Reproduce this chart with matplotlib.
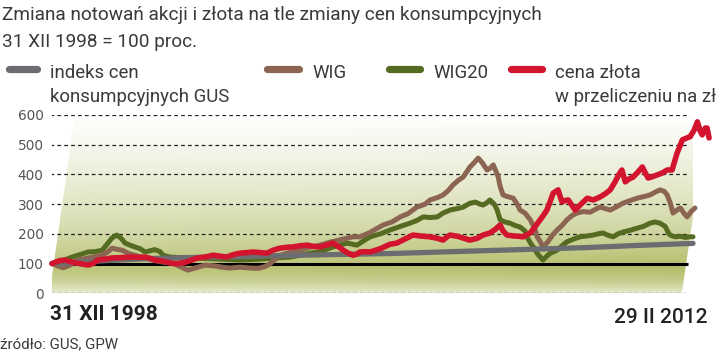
import numpy as np
import matplotlib.pyplot as plt
from matplotlib.lines import Line2D
from matplotlib.patches import Polygon

# czas w latach od 31 XII 1998, wartosci: 31 XII 1998 = 100
cpi_t = [0, 1, 2, 3, 4, 5, 6, 7, 8, 9, 10, 11, 12, 13.16]
cpi_v = [100, 109, 117, 121, 124, 128, 131, 134, 139, 144, 149, 154, 161, 168]

wig_t = [0, 0.12, 0.23, 0.37, 0.53, 0.78, 1.03, 1.15, 1.23, 1.33, 1.44, 1.56, 1.70, 1.91,
         2.11, 2.32, 2.46, 2.63, 2.79, 3.00, 3.14, 3.35, 3.49, 3.65, 3.86, 4.07, 4.23, 4.37,
         4.48, 4.68, 4.89, 5.09, 5.30, 5.50, 5.71, 5.91, 6.18, 6.32, 6.53, 6.80, 6.98, 7.15,
         7.31, 7.49, 7.66, 7.76, 7.91, 8.03, 8.13, 8.23, 8.34, 8.44, 8.52, 8.58, 8.67, 8.75,
         8.83, 8.93, 8.99, 9.06, 9.16, 9.20, 9.26, 9.36, 9.47, 9.55, 9.61, 9.71, 9.82, 9.92,
         9.96, 10.02, 10.08, 10.18, 10.27, 10.37, 10.47, 10.57, 10.68, 10.78, 10.90, 11.05,
         11.15, 11.25, 11.36, 11.46, 11.60, 11.72, 11.87, 12.01, 12.14, 12.28, 12.38, 12.48,
         12.57, 12.63, 12.69, 12.75, 12.83, 12.90, 12.98, 13.04, 13.12, 13.20]
wig_v = [100, 92, 86, 95, 112, 120, 128, 140, 152, 148, 145, 135, 128, 119,
         110, 104, 102, 90, 78, 88, 95, 92, 88, 85, 88, 85, 84, 90,
         100, 128, 138, 145, 155, 162, 172, 180, 190, 190, 205, 230, 240, 257,
         268, 290, 300, 314, 322, 331, 345, 364, 380, 391, 410, 425, 440, 455,
         440, 415, 420, 432, 392, 360, 331, 325, 320, 300, 280, 270, 247, 215,
         190, 175, 156, 173, 195, 213, 228, 247, 262, 270, 275, 273,
         282, 290, 285, 280, 292, 303, 312, 320, 325, 331, 340, 348,
         343, 331, 305, 270, 280, 287, 268, 257, 275, 287]

wig20_t = [0, 0.16, 0.41, 0.57, 0.74, 0.88, 1.03, 1.13, 1.23, 1.33, 1.42, 1.50, 1.60, 1.70,
           1.81, 1.91, 2.01, 2.11, 2.22, 2.28, 2.42, 2.63, 3.04, 3.45, 3.86, 4.27, 4.68, 4.89,
           5.09, 5.30, 5.50, 5.77, 6.06, 6.26, 6.43, 6.53, 6.74, 6.94, 7.15, 7.35, 7.49, 7.62,
           7.76, 7.91, 8.03, 8.17, 8.32, 8.44, 8.58, 8.69, 8.79, 8.85, 8.93, 8.99, 9.08, 9.14,
           9.20, 9.30, 9.40, 9.51, 9.61, 9.71, 9.75, 9.82, 9.88, 9.98, 10.08, 10.16, 10.23,
           10.37, 10.47, 10.57, 10.70, 10.84, 10.99, 11.11, 11.21, 11.31, 11.42, 11.52, 11.62,
           11.72, 11.87, 12.01, 12.14, 12.28, 12.38, 12.48, 12.59, 12.65, 12.69, 12.79, 12.90,
           13.00, 13.10, 13.16]
wig20_v = [100, 105, 122, 130, 139, 140, 145, 165, 186, 196, 185, 169, 162, 156,
           150, 139, 143, 147, 140, 128, 122, 120, 118, 115, 112, 115, 120, 122,
           128, 135, 140, 156, 169, 162, 180, 190, 200, 213, 225, 236, 245, 257,
           255, 257, 270, 280, 285, 290, 303, 307, 300, 297, 305, 314, 300, 280,
           247, 240, 236, 228, 223, 210, 190, 170, 156, 130, 112, 125, 135,
           145, 160, 173, 182, 190, 193, 196, 200, 203, 195, 190, 200,
           206, 212, 219, 225, 236, 240, 236, 225, 205, 196, 190, 192,
           188, 190, 190]

gold_t = [0, 0.06, 0.16, 0.27, 0.41, 0.53, 0.74, 0.84, 0.94, 1.09, 1.23, 1.40, 1.64, 1.81,
          1.91, 2.01, 2.11, 2.28, 2.46, 2.59, 2.73, 2.87, 3.00, 3.14, 3.31, 3.45, 3.59, 3.72,
          3.86, 4.00, 4.13, 4.27, 4.41, 4.54, 4.68, 4.83, 4.95, 5.09, 5.24, 5.36, 5.50, 5.65,
          5.77, 5.87, 5.98, 6.08, 6.18, 6.26, 6.32, 6.43, 6.53, 6.74, 6.94, 7.08, 7.25, 7.41,
          7.56, 7.76, 7.91, 8.03, 8.11, 8.17, 8.32, 8.44, 8.58, 8.73, 8.85, 8.99, 9.10, 9.20,
          9.26, 9.34, 9.47, 9.57, 9.67, 9.82, 9.92, 10.02, 10.10, 10.16, 10.23, 10.29, 10.39,
          10.47, 10.53, 10.60, 10.68, 10.74, 10.86, 10.99, 11.11, 11.25, 11.36, 11.46, 11.56,
          11.64, 11.70, 11.77, 11.85, 11.93, 12.03, 12.12, 12.18, 12.24, 12.32, 12.42, 12.53,
          12.63, 12.73, 12.83, 12.94, 13.02, 13.10, 13.18, 13.25, 13.31, 13.35, 13.41, 13.45,
          13.49]
gold_v = [100, 104, 110, 112, 105, 101, 95, 100, 112, 115, 119, 120, 122, 121,
          122, 118, 112, 108, 101, 100, 104, 112, 119, 122, 128, 125, 122, 130,
          135, 137, 139, 137, 135, 145, 152, 155, 156, 160, 162, 158, 156, 163,
          169, 158, 145, 135, 128, 132, 139, 140, 139, 150, 165, 169, 183, 196,
          193, 190, 185, 179, 190, 196, 192, 186, 179, 185, 196, 203, 215, 230,
          210, 196, 193, 192, 190, 203, 225, 247, 265, 280, 310, 337, 348,
          307, 312, 314, 295, 280, 300, 320, 314, 324, 335, 348, 375,
          400, 415, 375, 385, 391, 408, 425, 405, 388, 392, 398, 405,
          415, 415, 470, 516, 522, 527, 548, 577, 545, 533, 556, 556,
          523]

y_ticks = [0, 100, 200, 300, 400, 500, 600]

GRAY = '#6b6d70'
BROWN = '#8c6552'
OLIVE = '#566b22'
RED = '#d2142e'
TXT = '#3a3a3a'
NARROW = ['Liberation Sans Narrow', 'Roboto', 'DejaVu Sans']

fig = plt.figure(figsize=(7.2, 3.52), dpi=100)
ax = fig.add_axes([52 / 720, 1 - 293.3 / 352, 641 / 720, 178.3 / 352])
ax.set_xlim(0, 13.16)
ax.set_ylim(0, 600)
for s in ax.spines.values():
    s.set_visible(False)
ax.set_xticks([])
ax.set_yticks(y_ticks)
ax.set_yticklabels([str(v) for v in y_ticks])
ax.tick_params(axis='y', length=0, pad=6, labelsize=9.8, labelcolor='#555555')

# tlo - rownoleglobok z gradientem
poly = Polygon([(-0.05, 0), (0.47, 600), (13.47, 600), (12.93, 0)], closed=True,
               facecolor='none', edgecolor='none', transform=ax.transData)
ax.add_patch(poly)
vv = np.linspace(0, 600, 300)
tt = np.linspace(-0.1, 13.6, 200)
inten = np.interp(vv, [0, 40, 80, 120, 200, 300, 400, 500, 600],
                  [0.35, 0.75, 0.95, 0.85, 0.62, 0.42, 0.26, 0.12, 0.0])
hor = 0.88 + 0.12 * (tt - tt.min()) / (tt.max() - tt.min())
k = inten[:, None] * hor[None, :]
base = np.array([176, 186, 98]) / 255.0
img = 1 - k[:, :, None] * (1 - base[None, None, :])
im = ax.imshow(img, extent=(tt.min(), tt.max(), 0, 600), origin='lower',
               aspect='auto', zorder=0)
im.set_clip_path(poly)

ax.hlines([v for v in y_ticks if v != 100], -0.04, 13.04, colors='#222222',
          linestyles=(0, (3, 2.5)), lw=0.9, zorder=1)
ax.hlines(100, 0, 13.06, colors='black', lw=2.2, zorder=2)

kw = dict(solid_capstyle='round', solid_joinstyle='round', clip_on=False)
ax.plot(wig20_t, wig20_v, color=OLIVE, lw=3.6, zorder=3, **kw)
ax.plot(wig_t, wig_v, color=BROWN, lw=3.6, zorder=4, **kw)
ax.plot(cpi_t, cpi_v, color=GRAY, lw=3.8, zorder=5, **kw)
ax.plot(gold_t, gold_v, color=RED, lw=4.0, zorder=6, **kw)

def ftext(x, y, s, **k):
    fig.text(x / 720, 1 - y / 352, s, va='baseline', **k)

ftext(2, 20, 'Zmiana notowań akcji i złota na tle zmiany cen konsumpcyjnych',
      family=NARROW, fontsize=13.7, color=TXT)
ftext(2, 46.7, '31 XII 1998 = 100 proc.', family=NARROW, fontsize=13.7, color=TXT)

legend = [(GRAY, 8.5, 36.5, 50, ['indeks cen', 'konsumpcyjnych GUS']),
          (BROWN, 266.5, 298.5, 312, ['WIG']),
          (OLIVE, 388.5, 419.5, 433, ['WIG20']),
          (RED, 510.5, 541.5, 555, ['cena złota', 'w przeliczeniu na zł'])]
for col, x0, x1, xt, lines in legend:
    fig.add_artist(Line2D([x0 / 720, x1 / 720], [1 - 68.5 / 352] * 2,
                          transform=fig.transFigure, color=col, lw=5.2,
                          solid_capstyle='round'))
    for i, s in enumerate(lines):
        ftext(xt, 78 + 23.5 * i, s, family=NARROW, fontsize=13.4, color=TXT)

ftext(50, 320, '31 XII 1998', family=['Roboto', 'DejaVu Sans'], fontsize=15,
      fontweight='bold', color='#222222')
ftext(708, 322.7, '29 II 2012', family=['Roboto', 'DejaVu Sans'], fontsize=15,
      fontweight='medium', color='#222222', ha='right')
ftext(0, 348, 'źródło: GUS, GPW', family=NARROW, fontsize=10.8, color=TXT)

fig.savefig('out.png', dpi=100)
